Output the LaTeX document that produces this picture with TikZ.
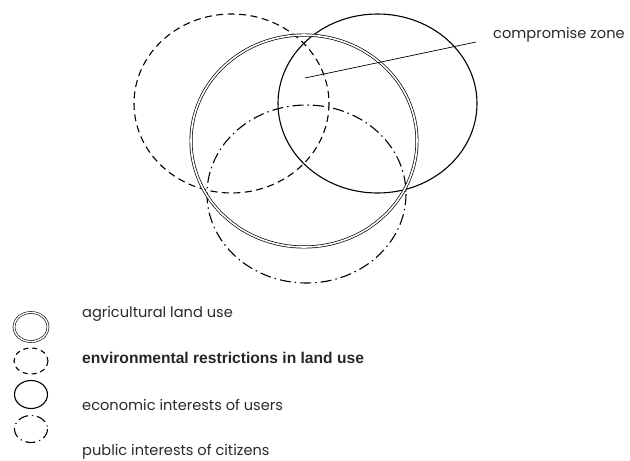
\documentclass[tikz,border=0pt]{standalone}
\usepackage{fontspec}
\usepackage{xcolor}
\usepackage{tikz}
\usetikzlibrary{positioning}
\newfontfamily\gothfont{Poppins}
\newfontfamily\arialfont{Liberation Sans}
\definecolor{textgray}{HTML}{2A2A2A}
\tikzset{
  dashring/.style={line width=1.1pt, dash pattern=on 7pt off 4.5pt},
  dotring/.style={line width=1.1pt, dash pattern=on 11pt off 4pt on 1.5pt off 4pt},
  solidring/.style={line width=1.1pt},
  doublering/.style={double, double distance=1.6pt, line width=0.7pt},
  legtext/.style={anchor=base west, inner sep=0pt, text=textgray, font=\gothfont\fontsize{14.6}{16}\selectfont}
}

\begin{document}
\begin{tikzpicture}[x=1pt, y=-1pt]
\useasboundingbox (0,0) rectangle (630,461);
% Define circles
\draw[dashring] (231.5,103.5) ellipse [x radius=97.5, y radius=89.5];
\draw[solidring] (377.5,103.5) ellipse [x radius=99.5, y radius=89.5];
\draw[dotring] (306.5,194) ellipse [x radius=99.5, y radius=89];
\draw[doublering] (304,141) ellipse [x radius=113, y radius=106];

% Label of the overlap
\coordinate (zone) at (305,78);
\node[legtext, anchor=west] (compromise) at (493,35) {compromise zone};
\draw[line width=0.7pt] (zone) -- ([xshift=-17pt, yshift=-7pt]compromise.west);

% Legend
\draw[doublering, line width=0.6pt, double distance=1.4pt] (31,327) ellipse [x radius=17, y radius=14.5];
\draw[dashring, dash pattern=on 5pt off 4pt] (31,361) ellipse [x radius=17, y radius=13];
\draw[solidring] (31,394.5) ellipse [x radius=16.5, y radius=14];
\draw[dotring, dash pattern=on 10pt off 4pt on 1.2pt off 4pt] (31,429) ellipse [x radius=16.5, y radius=13.5];

\node[legtext] (agri) at (82,317) {agricultural land use};
\node[legtext, text=black!85, font=\arialfont\bfseries\fontsize{15.6}{18}\selectfont] (env) at (82,363) {environmental restrictions in land use};
\node[legtext] (econ) at (82,410) {economic interests of users};
\node[legtext] (public) at (82,455) {public interests of citizens};
\end{tikzpicture}
\end{document}
